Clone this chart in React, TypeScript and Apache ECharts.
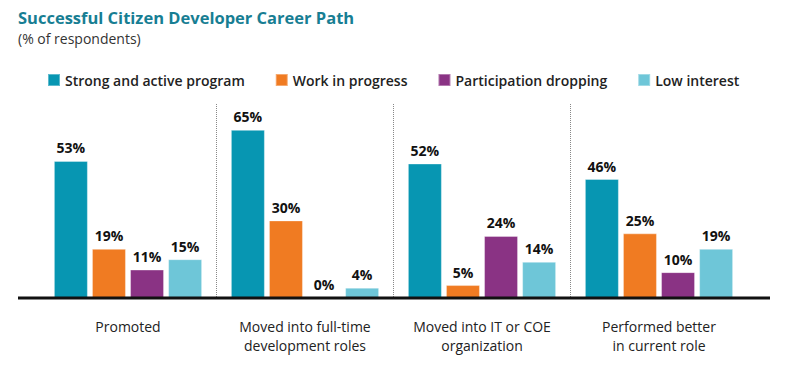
import React, { useEffect, useRef } from "react";
import * as echarts from "echarts";

const categories = [
  "Promoted",
  "Moved into full-time\ndevelopment roles",
  "Moved into IT or COE\norganization",
  "Performed better\nin current role",
];
const seriesNames = [
  "Strong and active program",
  "Work in progress",
  "Participation dropping",
  "Low interest",
];
const strongActive = [53, 65, 52, 46];
const workInProgress = [19, 30, 5, 25];
const participationDropping = [11, 0, 24, 10];
const lowInterest = [15, 4, 14, 19];
const colors = ["#0796B2", "#F07B22", "#8A3384", "#6EC6D8"];

export default function App() {
  const ref = useRef<HTMLDivElement>(null);
  useEffect(() => {
    document.body.style.margin = "0";
    if (!ref.current) return;
    const chart = echarts.init(ref.current, null, { renderer: "svg" });
    const values = [strongActive, workInProgress, participationDropping, lowInterest];
    const font = "'Open Sans', sans-serif";
    chart.setOption({
      animation: false,
      textStyle: { fontFamily: font },
      title: {
        text: "Successful Citizen Developer Career Path",
        subtext: "(% of respondents)",
        left: 13,
        top: 4,
        itemGap: 5,
        textStyle: { color: "#177E93", fontSize: 16.5, fontWeight: "bold", fontFamily: font },
        subtextStyle: { color: "#333", fontSize: 14, fontFamily: font },
      },
      legend: {
        top: 68,
        left: 42,
        itemWidth: 12,
        itemHeight: 12,
        itemGap: 30,
        icon: "rect",
        textStyle: { fontSize: 14, color: "#222", fontWeight: 600, fontFamily: font },
        data: seriesNames,
      },
      grid: { left: 39.5, right: 52.5, top: 104, bottom: 70 },
      xAxis: {
        type: "category",
        data: categories,
        axisLine: { show: false },
        axisTick: { show: false },
        axisLabel: {
          interval: 0,
          margin: 19,
          fontSize: 14,
          lineHeight: 19,
          color: "#222",
          fontFamily: font,
        },
        splitLine: {
          show: true,
          interval: 0,
          showMinLine: false,
          showMaxLine: false,
          lineStyle: { type: "dotted", color: "#888", width: 1 },
        },
      },
      yAxis: {
        type: "value",
        min: 0,
        max: 75,
        show: false,
        splitLine: { show: false },
      },
      graphic: [
        {
          type: "line",
          shape: { x1: 18, y1: 298, x2: 770, y2: 298 },
          style: { stroke: "#111", lineWidth: 3 },
          z: 10,
        },
      ],
      series: seriesNames.map((name, i) => ({
        name,
        type: "bar",
        data: values[i],
        barWidth: 34,
        barGap: "12%",
        itemStyle: { color: colors[i], borderColor: "rgba(255,255,255,0.35)", borderWidth: 1 },
        label: {
          show: true,
          position: "top",
          distance: 6,
          formatter: "{c}%",
          fontSize: 14,
          fontWeight: "bold",
          color: "#111",
          fontFamily: font,
        },
      })),
    });
    return () => chart.dispose();
  }, []);
  return <div ref={ref} style={{ width: 800, height: 368 }} />;
}
